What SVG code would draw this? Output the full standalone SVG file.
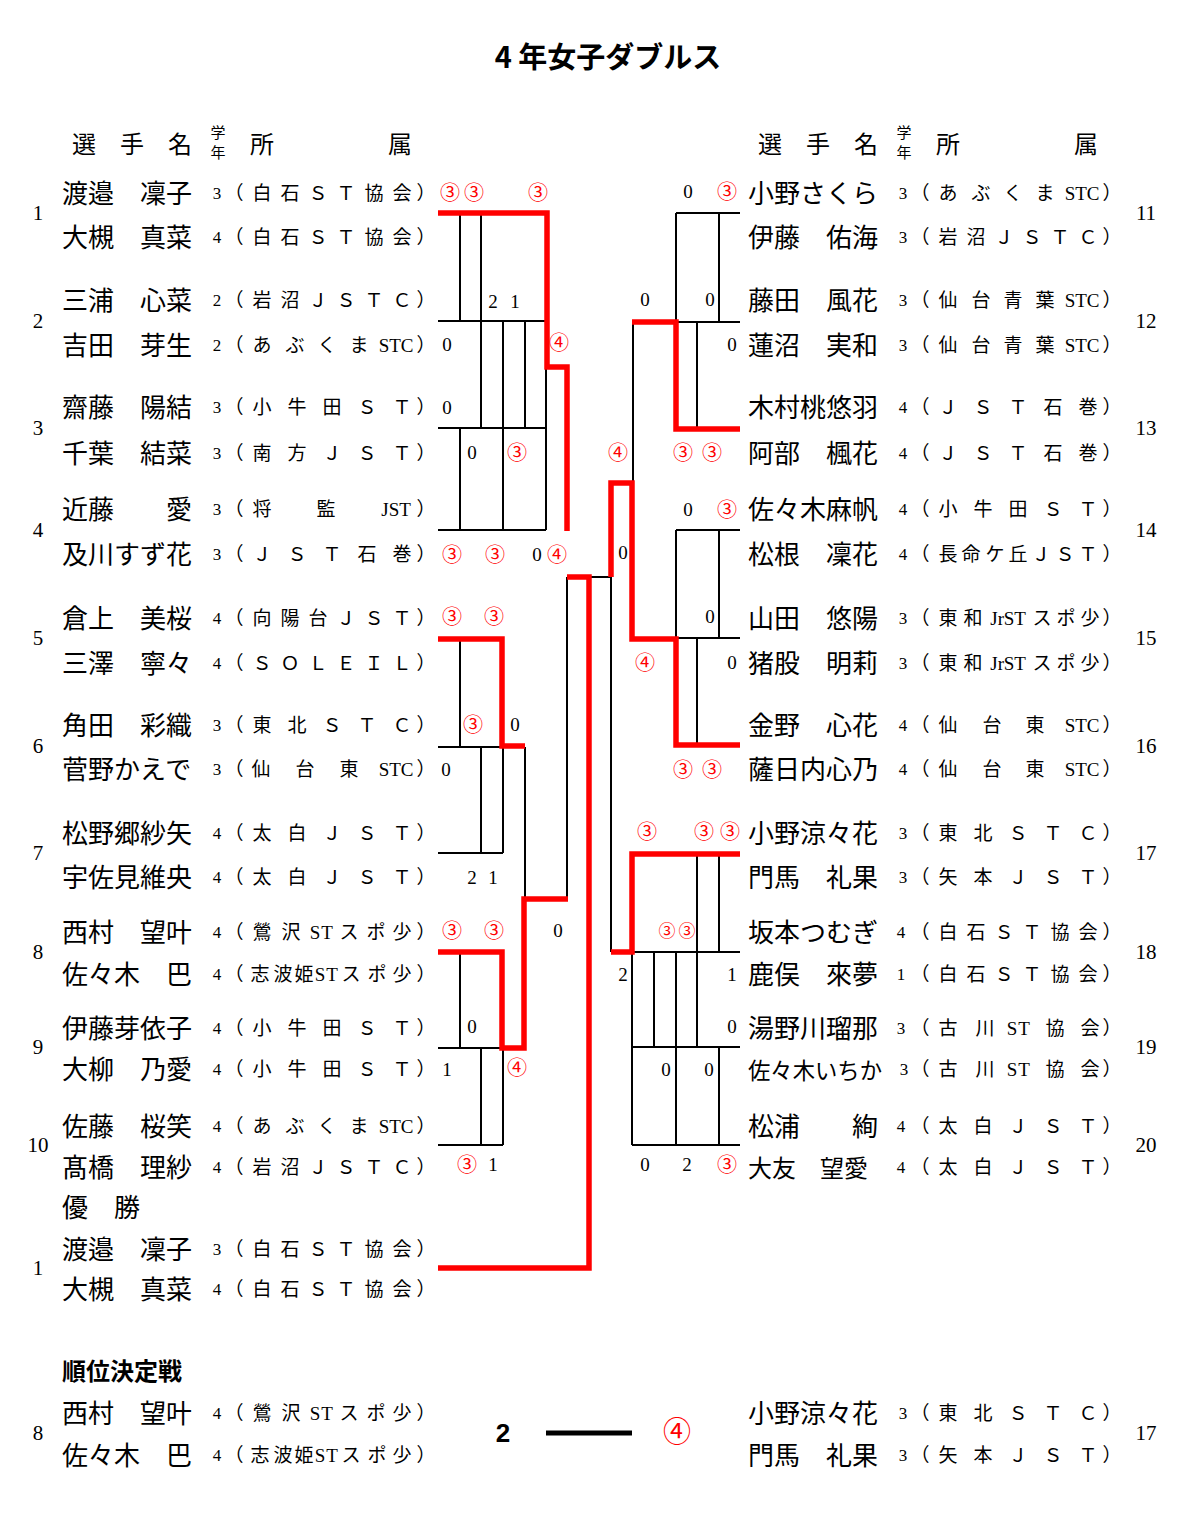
<svg xmlns="http://www.w3.org/2000/svg" width="1200" height="1514" viewBox="0 0 1200 1514">
<style>
.nm{font-family:"Noto Sans CJK JP",sans-serif;font-size:26px;fill:#000}
.af{font-family:"Liberation Serif","Noto Sans CJK JP",serif;font-size:19px;text-anchor:middle;fill:#000}
.gr{font-family:"Liberation Serif",serif;font-size:17px;text-anchor:middle;fill:#000}
.no{font-family:"Liberation Serif",serif;font-size:21px;text-anchor:middle;fill:#000}
.hd{font-family:"Noto Sans CJK JP",sans-serif;font-size:24px;text-anchor:middle;fill:#000}
.hs{font-family:"Noto Sans CJK JP",sans-serif;font-size:15px;text-anchor:middle;fill:#000}
.sc{font-family:"Liberation Serif",serif;font-size:19px;text-anchor:middle;fill:#000}
.rc{font-family:"Noto Sans CJK JP",sans-serif;font-size:20px;text-anchor:middle;fill:#ff0000}
.bk{stroke:#000;stroke-width:2;fill:none}
.rd{stroke:#ff0000;stroke-width:5.5;fill:none;stroke-linejoin:miter}
</style>
<rect width="1200" height="1514" fill="#fff"/>
<text x="608" y="68" style="font-family:'Noto Sans CJK JP',sans-serif;font-size:29px;font-weight:bold;text-anchor:middle">4 年女子ダブルス</text>

<g id="header-left">
<text class="hd" x="84 132 180" y="153">選手名</text>
<text class="hs" x="218" y="138">学</text>
<text class="hs" x="218" y="158">年</text>
<text class="hd" x="262" y="153">所</text>
<text class="hd" x="400" y="153">属</text>
</g>
<g id="header-right" transform="translate(686,0)">
<text class="hd" x="84 132 180" y="153">選手名</text>
<text class="hs" x="218" y="138">学</text>
<text class="hs" x="218" y="158">年</text>
<text class="hd" x="262" y="153">所</text>
<text class="hd" x="400" y="153">属</text>
</g>

<g id="connectors">
<path class="bk" d="M438 321H546M438 428H546M438 530H546M460 213V321M460 428V530M481 213V428M503 321V530M525 321V428M546 367V530"/>
<path class="bk" d="M438 747H503M438 853H503M460 638V747M481 747V853M503 747V853M525 747V899"/>
<path class="bk" d="M438 1048H503M438 1145H503M460 952V1048M481 1048V1145M503 1048V1145"/>
<path class="bk" d="M567 577V899M589 577H611M611 577V952"/>
<path class="bk" d="M676 213H740M676 322H740M676 213V322M719 213V322M697 322V429M633 322V483"/>
<path class="bk" d="M676 530H740M676 638H740M676 530V638M719 530V638M697 638V745"/>
<path class="bk" d="M632 952H740M632 1047H740M632 1145H740M632 952V1145M654 952V1047M676 952V1145M697 854V1047M719 854V952M719 1047V1145"/>
<path class="rd" d="M438 213H547V367H567V531"/>
<path class="rd" d="M438 639H502V746H525"/>
<path class="rd" d="M438 952H502V1048H524V899H568"/>
<path class="rd" d="M567 577H589V1268H438"/>
<path class="rd" d="M611 577V483H632V639H676V745H740"/>
<path class="rd" d="M632 322H676V429H740"/>
<path class="rd" d="M740 854H632V952H611"/>
<path d="M546 1433H632" stroke="#000" stroke-width="5" fill="none"/>
</g>

<g id="scores">
<text class="rc" x="450" y="200">③</text><text class="rc" x="474" y="200">③</text><text class="rc" x="538" y="200">③</text>
<text class="sc" x="493" y="308">2</text><text class="sc" x="515" y="308">1</text>
<text class="sc" x="447" y="351">0</text><text class="rc" x="559" y="350">④</text>
<text class="sc" x="447" y="414">0</text>
<text class="sc" x="472" y="459">0</text><text class="rc" x="517" y="460">③</text>
<text class="rc" x="452" y="562">③</text><text class="rc" x="495" y="562">③</text><text class="sc" x="537" y="561">0</text><text class="rc" x="557" y="562">④</text>
<text class="rc" x="452" y="624">③</text><text class="rc" x="494" y="624">③</text>
<text class="rc" x="473" y="732">③</text><text class="sc" x="515" y="731">0</text>
<text class="sc" x="446" y="776">0</text>
<text class="sc" x="472" y="884">2</text><text class="sc" x="493" y="884">1</text>
<text class="rc" x="452" y="938">③</text><text class="rc" x="494" y="938">③</text><text class="sc" x="558" y="937">0</text>
<text class="sc" x="472" y="1033">0</text>
<text class="sc" x="447" y="1076">1</text><text class="rc" x="517" y="1075">④</text>
<text class="rc" x="467" y="1172">③</text><text class="sc" x="493" y="1171">1</text>

<text class="sc" x="688" y="198">0</text><text class="rc" x="727" y="199">③</text>
<text class="sc" x="645" y="306">0</text><text class="sc" x="710" y="306">0</text>
<text class="sc" x="732" y="351">0</text>
<text class="rc" x="618" y="460">④</text><text class="rc" x="683" y="460">③</text><text class="rc" x="712" y="460">③</text>
<text class="sc" x="688" y="516">0</text><text class="rc" x="727" y="517">③</text>
<text class="sc" x="623" y="559">0</text>
<text class="sc" x="710" y="623">0</text>
<text class="rc" x="645" y="670">④</text><text class="sc" x="732" y="669">0</text>
<text class="rc" x="683" y="777">③</text><text class="rc" x="712" y="777">③</text>
<text class="rc" x="647" y="839">③</text><text class="rc" x="704" y="839">③</text><text class="rc" x="730" y="839">③</text>
<text class="rc" x="667" y="937" style="font-size:17px">③</text><text class="rc" x="687" y="937" style="font-size:17px">③</text>
<text class="sc" x="623" y="981">2</text><text class="sc" x="732" y="981">1</text>
<text class="sc" x="732" y="1033">0</text>
<text class="sc" x="666" y="1076">0</text><text class="sc" x="709" y="1076">0</text>
<text class="sc" x="645" y="1171">0</text><text class="sc" x="687" y="1171">2</text><text class="rc" x="727" y="1172">③</text>

<text x="503" y="1442" style="font-family:'Liberation Sans',sans-serif;font-size:26px;font-weight:bold;text-anchor:middle">2</text>
<text class="rc" x="677" y="1442" style="font-size:28px">④</text>
</g>

<g id="team-1">
<text class="no" x="38" y="220">1</text>
<text class="nm" x="62" y="203">渡邉　凜子</text><text class="gr" x="217" y="199">3</text><text class="af" x="234 262 290 318 346 374 402 426" y="200">（白石ＳＴ協会）</text>
<text class="nm" x="62" y="247">大槻　真菜</text><text class="gr" x="217" y="243">4</text><text class="af" x="234 262 290 318 346 374 402 426" y="244">（白石ＳＴ協会）</text>
</g>
<g id="team-2">
<text class="no" x="38" y="328">2</text>
<text class="nm" x="62" y="310">三浦　心菜</text><text class="gr" x="217" y="306">2</text><text class="af" x="234 262 290 318 346 374 402 426" y="307">（岩沼ＪＳＴＣ）</text>
<text class="nm" x="62" y="355">吉田　芽生</text><text class="gr" x="217" y="351">2</text><text class="af" x="234 262 295 327 359 384 395 407 426" y="352">（あぶくまSTC）</text>
</g>
<g id="team-3">
<text class="no" x="38" y="435">3</text>
<text class="nm" x="62" y="417">齋藤　陽結</text><text class="gr" x="217" y="413">3</text><text class="af" x="234 262 297 332 367 402 426" y="414">（小牛田ＳＴ）</text>
<text class="nm" x="62" y="463">千葉　結菜</text><text class="gr" x="217" y="459">3</text><text class="af" x="234 262 297 332 367 402 426" y="460">（南方ＪＳＴ）</text>
</g>
<g id="team-4">
<text class="no" x="38" y="537">4</text>
<text class="nm" x="62" y="519">近藤　　愛</text><text class="gr" x="217" y="515">3</text><text class="af" x="234 262 326 385 394 405 426" y="516">（将監JST）</text>
<text class="nm" x="62" y="564">及川すず花</text><text class="gr" x="217" y="560">3</text><text class="af" x="234 262 297 332 367 402 426" y="561">（ＪＳＴ石巻）</text>
</g>
<g id="team-5">
<text class="no" x="38" y="645">5</text>
<text class="nm" x="62" y="628">倉上　美桜</text><text class="gr" x="217" y="624">4</text><text class="af" x="234 262 290 318 346 374 402 426" y="625">（向陽台ＪＳＴ）</text>
<text class="nm" x="62" y="673">三澤　寧々</text><text class="gr" x="217" y="669">4</text><text class="af" x="234 262 290 318 346 374 402 426" y="670">（ＳＯＬＥＩＬ）</text>
</g>
<g id="team-6">
<text class="no" x="38" y="753">6</text>
<text class="nm" x="62" y="735">角田　彩織</text><text class="gr" x="217" y="731">3</text><text class="af" x="234 262 297 332 367 402 426" y="732">（東北ＳＴＣ）</text>
<text class="nm" x="62" y="779">菅野かえで</text><text class="gr" x="217" y="775">3</text><text class="af" x="234 261 305 349 384 395 407 426" y="776">（仙台東STC）</text>
</g>
<g id="team-7">
<text class="no" x="38" y="860">7</text>
<text class="nm" x="62" y="843">松野郷紗矢</text><text class="gr" x="217" y="839">4</text><text class="af" x="234 262 297 332 367 402 426" y="840">（太白ＪＳＴ）</text>
<text class="nm" x="62" y="887">宇佐見維央</text><text class="gr" x="217" y="883">4</text><text class="af" x="234 262 297 332 367 402 426" y="884">（太白ＪＳＴ）</text>
</g>
<g id="team-8">
<text class="no" x="38" y="959">8</text>
<text class="nm" x="62" y="942">西村　望叶</text><text class="gr" x="217" y="938">4</text><text class="af" x="234 262 291 315 327 349 376 402 426" y="939">（鶯沢STスポ少）</text>
<text class="nm" x="62" y="984">佐々木　巴</text><text class="gr" x="217" y="980">4</text><text class="af" x="234 260 283 304 320 332 351 377 402 426" y="981">（志波姫STスポ少）</text>
</g>
<g id="team-9">
<text class="no" x="38" y="1054">9</text>
<text class="nm" x="62" y="1038">伊藤芽依子</text><text class="gr" x="217" y="1034">4</text><text class="af" x="234 262 297 332 367 402 426" y="1035">（小牛田ＳＴ）</text>
<text class="nm" x="62" y="1079">大柳　乃愛</text><text class="gr" x="217" y="1075">4</text><text class="af" x="234 262 297 332 367 402 426" y="1076">（小牛田ＳＴ）</text>
</g>
<g id="team-10">
<text class="no" x="38" y="1152">10</text>
<text class="nm" x="62" y="1136">佐藤　桜笑</text><text class="gr" x="217" y="1132">4</text><text class="af" x="234 262 295 327 359 384 395 407 426" y="1133">（あぶくまSTC）</text>
<text class="nm" x="62" y="1177">髙橋　理紗</text><text class="gr" x="217" y="1173">4</text><text class="af" x="234 262 290 318 346 374 402 426" y="1174">（岩沼ＪＳＴＣ）</text>
</g>
<g id="winner">
<text class="nm" x="62" y="1217">優　勝</text>
<text class="no" x="38" y="1275">1</text>
<text class="nm" x="62" y="1259">渡邉　凜子</text><text class="gr" x="217" y="1255">3</text><text class="af" x="234 262 290 318 346 374 402 426" y="1256">（白石ＳＴ協会）</text>
<text class="nm" x="62" y="1299">大槻　真菜</text><text class="gr" x="217" y="1295">4</text><text class="af" x="234 262 290 318 346 374 402 426" y="1296">（白石ＳＴ協会）</text>
</g>
<g id="placement-left">
<text x="62" y="1380" style="font-family:'Noto Sans CJK JP',sans-serif;font-size:24px;font-weight:bold">順位決定戦</text>
<text class="no" x="38" y="1440">8</text>
<text class="nm" x="62" y="1423">西村　望叶</text><text class="gr" x="217" y="1419">4</text><text class="af" x="234 262 291 315 327 349 376 402 426" y="1420">（鶯沢STスポ少）</text>
<text class="nm" x="62" y="1465">佐々木　巴</text><text class="gr" x="217" y="1461">4</text><text class="af" x="234 260 283 304 320 332 351 377 402 426" y="1462">（志波姫STスポ少）</text>
</g>

<g id="team-11">
<text class="no" x="1146" y="220">11</text>
<g transform="translate(686,0)">
<text class="nm" x="62" y="203">小野さくら</text><text class="gr" x="217" y="199">3</text><text class="af" x="234 262 295 327 359 384 395 407 426" y="200">（あぶくまSTC）</text>
<text class="nm" x="62" y="247">伊藤　佑海</text><text class="gr" x="217" y="243">3</text><text class="af" x="234 262 290 318 346 374 402 426" y="244">（岩沼ＪＳＴＣ）</text>
</g></g>
<g id="team-12">
<text class="no" x="1146" y="328">12</text>
<g transform="translate(686,0)">
<text class="nm" x="62" y="310">藤田　風花</text><text class="gr" x="217" y="306">3</text><text class="af" x="234 262 295 327 359 384 395 407 426" y="307">（仙台青葉STC）</text>
<text class="nm" x="62" y="355">蓮沼　実和</text><text class="gr" x="217" y="351">3</text><text class="af" x="234 262 295 327 359 384 395 407 426" y="352">（仙台青葉STC）</text>
</g></g>
<g id="team-13">
<text class="no" x="1146" y="435">13</text>
<g transform="translate(686,0)">
<text class="nm" x="62" y="417">木村桃悠羽</text><text class="gr" x="217" y="413">4</text><text class="af" x="234 262 297 332 367 402 426" y="414">（ＪＳＴ石巻）</text>
<text class="nm" x="62" y="463">阿部　楓花</text><text class="gr" x="217" y="459">4</text><text class="af" x="234 262 297 332 367 402 426" y="460">（ＪＳＴ石巻）</text>
</g></g>
<g id="team-14">
<text class="no" x="1146" y="537">14</text>
<g transform="translate(686,0)">
<text class="nm" x="62" y="519">佐々木麻帆</text><text class="gr" x="217" y="515">4</text><text class="af" x="234 262 297 332 367 402 426" y="516">（小牛田ＳＴ）</text>
<text class="nm" x="62" y="564">松根　凜花</text><text class="gr" x="217" y="560">4</text><text class="af" x="234 262 285 309 332 355 379 402 426" y="561">（長命ケ丘ＪＳＴ）</text>
</g></g>
<g id="team-15">
<text class="no" x="1146" y="645">15</text>
<g transform="translate(686,0)">
<text class="nm" x="62" y="628">山田　悠陽</text><text class="gr" x="217" y="624">3</text><text class="af" x="234 262 287 308 315 323 334 356 380 404 426" y="625">（東和JrSTスポ少）</text>
<text class="nm" x="62" y="673">猪股　明莉</text><text class="gr" x="217" y="669">3</text><text class="af" x="234 262 287 308 315 323 334 356 380 404 426" y="670">（東和JrSTスポ少）</text>
</g></g>
<g id="team-16">
<text class="no" x="1146" y="753">16</text>
<g transform="translate(686,0)">
<text class="nm" x="62" y="735">金野　心花</text><text class="gr" x="217" y="731">4</text><text class="af" x="234 262 306 349 384 395 407 426" y="732">（仙台東STC）</text>
<text class="nm" x="62" y="779">薩日内心乃</text><text class="gr" x="217" y="775">4</text><text class="af" x="234 262 306 349 384 395 407 426" y="776">（仙台東STC）</text>
</g></g>
<g id="team-17">
<text class="no" x="1146" y="860">17</text>
<g transform="translate(686,0)">
<text class="nm" x="62" y="843">小野涼々花</text><text class="gr" x="217" y="839">3</text><text class="af" x="234 262 297 332 367 402 426" y="840">（東北ＳＴＣ）</text>
<text class="nm" x="62" y="887">門馬　礼果</text><text class="gr" x="217" y="883">3</text><text class="af" x="234 262 297 332 367 402 426" y="884">（矢本ＪＳＴ）</text>
</g></g>
<g id="team-18">
<text class="no" x="1146" y="959">18</text>
<g transform="translate(686,0)">
<text class="nm" x="62" y="942">坂本つむぎ</text><text class="gr" x="215" y="938">4</text><text class="af" x="234 262 290 318 346 374 402 426" y="939">（白石ＳＴ協会）</text>
<text class="nm" x="62" y="984">鹿俣　來夢</text><text class="gr" x="215" y="980">1</text><text class="af" x="234 262 290 318 346 374 402 426" y="981">（白石ＳＴ協会）</text>
</g></g>
<g id="team-19">
<text class="no" x="1146" y="1054">19</text>
<g transform="translate(686,0)">
<text class="nm" x="62" y="1038">湯野川瑠那</text><text class="gr" x="215" y="1034">3</text><text class="af" x="234 262 299 326 338 369 404 426" y="1035">（古川ST協会）</text>
<text class="nm" x="62" y="1079" style="font-size:23px" textLength="134" lengthAdjust="spacingAndGlyphs">佐々木いちか</text><text class="gr" x="218" y="1075">3</text><text class="af" x="234 262 299 326 338 369 404 426" y="1076">（古川ST協会）</text>
</g></g>
<g id="team-20">
<text class="no" x="1146" y="1152">20</text>
<g transform="translate(686,0)">
<text class="nm" x="62" y="1136">松浦　　絢</text><text class="gr" x="215" y="1132">4</text><text class="af" x="234 262 297 332 367 402 426" y="1133">（太白ＪＳＴ）</text>
<text class="nm" x="62 86 110 134 158" y="1177" style="font-size:24px">大友　望愛</text><text class="gr" x="215" y="1173">4</text><text class="af" x="234 262 297 332 367 402 426" y="1174">（太白ＪＳＴ）</text>
</g></g>
<g id="placement-right">
<text class="no" x="1146" y="1440">17</text>
<g transform="translate(686,0)">
<text class="nm" x="62" y="1423">小野涼々花</text><text class="gr" x="217" y="1419">3</text><text class="af" x="234 262 297 332 367 402 426" y="1420">（東北ＳＴＣ）</text>
<text class="nm" x="62" y="1465">門馬　礼果</text><text class="gr" x="217" y="1461">3</text><text class="af" x="234 262 297 332 367 402 426" y="1462">（矢本ＪＳＴ）</text>
</g></g>
</svg>
